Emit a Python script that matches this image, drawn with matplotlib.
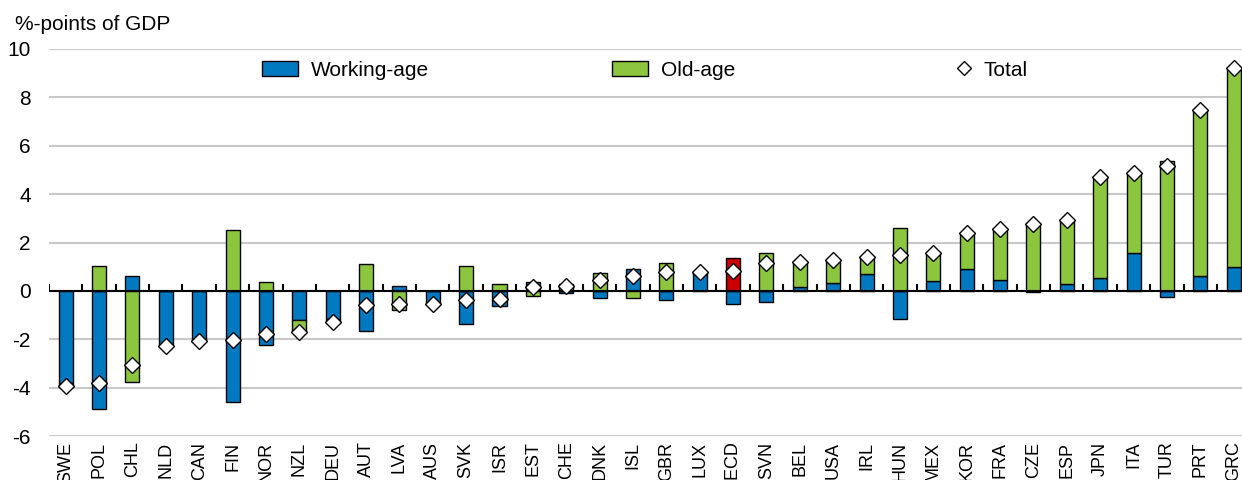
import matplotlib.pyplot as plt
import numpy as np
from matplotlib.patches import Patch
from matplotlib.lines import Line2D

# data (%-points of GDP)
countries = ["SWE", "POL", "CHL", "NLD", "CAN", "FIN", "NOR", "NZL", "DEU", "AUT", "LVA", "AUS",
             "SVK", "ISR", "EST", "CHE", "DNK", "ISL", "GBR", "LUX", "OECD", "SVN", "BEL", "USA",
             "IRL", "HUN", "MEX", "KOR", "FRA", "CZE", "ESP", "JPN", "ITA", "TUR", "PRT", "GRC"]
working_age = [-3.80, -4.89, 0.63, -2.25, -2.08, -4.58, -2.22, -1.22, -1.15, -1.67, 0.22, -0.52,
               -1.39, -0.62, 0.35, -0.07, -0.29, 0.91, -0.39, 0.68, -0.55, -0.45, 0.17, 0.32,
               0.70, -1.16, 0.39, 0.90, 0.43, -0.03, 0.28, 0.52, 1.56, -0.26, 0.62, 1.00]
old_age = [-0.15, 1.04, -3.77, 0.0, 0.0, 2.51, 0.38, -0.47, -0.12, 1.10, -0.78, 0.0,
           1.02, 0.29, -0.20, 0.27, 0.74, -0.30, 1.14, 0.10, 1.36, 1.57, 1.02, 0.92,
           0.72, 2.59, 1.17, 1.48, 2.12, 2.80, 2.65, 4.20, 3.33, 5.39, 6.86, 8.20]
total = [-3.95, -3.82, -3.08, -2.26, -2.08, -2.04, -1.78, -1.71, -1.29, -0.58, -0.55, -0.54,
         -0.37, -0.34, 0.17, 0.20, 0.44, 0.61, 0.77, 0.80, 0.83, 1.16, 1.20, 1.27,
         1.42, 1.47, 1.56, 2.38, 2.55, 2.77, 2.93, 4.72, 4.89, 5.17, 7.48, 9.20]

blue = "#0079C1"
green = "#8CC63F"
red = "#CC0000"

plt.rcParams["font.family"] = ["Liberation Sans Narrow", "Liberation Sans", "DejaVu Sans"]
plt.rcParams["font.size"] = 15
plt.rcParams["axes.unicode_minus"] = False

fig = plt.figure(figsize=(12.42, 4.8), dpi=100)
ax = fig.add_axes([49 / 1242, 44 / 480, 1193 / 1242, 387 / 480])

x = np.arange(len(countries))
wa = np.array(working_age)
oa = np.array(old_age)
w = 0.42

# stack: working-age nearest zero, old-age after, positive and negative separately
oa_bottom = np.where(np.sign(oa) == np.sign(wa), wa, 0)
oa_colors = [red if c == "OECD" else green for c in countries]

ax.bar(x, wa, w, color=blue, edgecolor="black", linewidth=1, zorder=3)
ax.bar(x, oa, w, bottom=oa_bottom, color=oa_colors, edgecolor="black", linewidth=1, zorder=3)
ax.plot(x, total, "D", color="white", markeredgecolor="black", markersize=8.5,
        markeredgewidth=1, linestyle="none", zorder=5)

ax.set_ylim(-6, 10)
ax.set_xlim(-0.5, 35.25)
ax.set_yticks(np.arange(-6, 11, 2))
ax.yaxis.grid(True, color="#C8C8C8", linewidth=1.5, zorder=0)
ax.set_axisbelow(True)
for s in ax.spines.values():
    s.set_visible(False)

# zero line with little category ticks pointing up
ax.axhline(0, color="black", linewidth=1.5, zorder=4)
ax.vlines(np.arange(-0.5, len(countries), 1), 0, 0.27, color="black", linewidth=1.5, zorder=4)

ax.set_xticks(x)
ax.set_xticklabels(countries, rotation=90, va="top", fontsize=13)
ax.tick_params(axis="x", length=0, pad=4)
ax.tick_params(axis="y", length=0, pad=13)

fig.text(15 / 1242, 1 - 25 / 480, "%-points of GDP", va="center", ha="left", fontsize=15)

# three separate legend entries, placed like the original
entries = [
    (Patch(facecolor=blue, edgecolor="black"), "Working-age", 262, 1.75),
    (Patch(facecolor=green, edgecolor="black"), "Old-age", 612, 1.75),
    (Line2D([], [], marker="D", color="white", markeredgecolor="black",
            markersize=7, linestyle="none"), "Total", 958, 0.6),
]
legs = []
for h, lab, px, hl in entries:
    leg = ax.legend([h], [lab], frameon=False, loc="center left",
                    bbox_to_anchor=((px - 49) / 1193, 1 - 21 / 387),
                    handlelength=hl, handleheight=0.7, handletextpad=0.6,
                    borderpad=0, borderaxespad=0)
    legs.append(leg)
# the last one stays as ax.legend_, so only the earlier ones are added by hand
for leg in legs[:-1]:
    ax.add_artist(leg)

fig.savefig("out.png", dpi=100)
